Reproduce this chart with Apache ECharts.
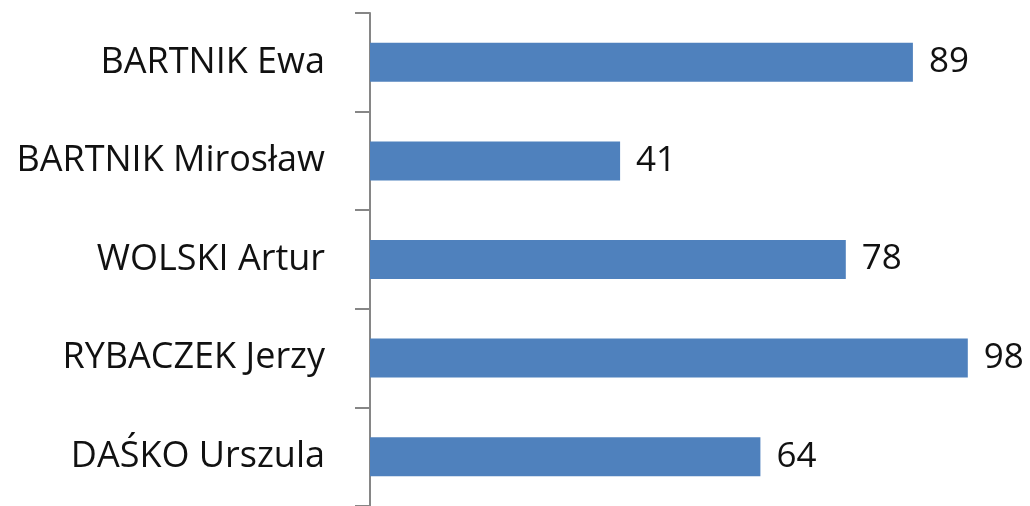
<!DOCTYPE html>
<html>
<head>
<meta charset="utf-8">
<script src="https://cdn.jsdelivr.net/npm/echarts@6/dist/echarts.min.js"></script>
<style>
  html, body { margin: 0; padding: 0; background: #fff; }
  #chart { width: 1030px; height: 506px; }
</style>
</head>
<body>
<div id="chart"></div>
<script>
const names = ['BARTNIK Ewa', 'BARTNIK Mirosław', 'WOLSKI Artur', 'RYBACZEK Jerzy', 'DAŚKO Urszula'];
const scores = [89, 41, 78, 98, 64];

const chart = echarts.init(document.getElementById('chart'));

chart.setOption({
  animation: false,
  grid: {
    left: 370,
    right: 50,
    top: 13,
    bottom: -3,
    containLabel: false
  },
  xAxis: {
    type: 'value',
    min: 0,
    max: 100,
    show: false
  },
  yAxis: {
    type: 'category',
    inverse: true,
    data: names,
    axisLine: { show: true, lineStyle: { color: '#868686', width: 2 } },
    axisTick: { show: true, length: 15, lineStyle: { color: '#868686', width: 2 } },
    axisLabel: {
      margin: 45,
      color: '#111',
      fontFamily: 'Open Sans',
      fontSize: 36,
      padding: [4, 0, 0, 0]
    },
    splitLine: { show: false }
  },
  series: [
    {
      type: 'bar',
      data: scores,
      barWidth: 39,
      itemStyle: { color: '#4F81BD' },
      label: {
        show: true,
        position: 'right',
        distance: 16,
        color: '#111',
        fontFamily: 'Open Sans',
        fontSize: 35,
        padding: [4, 0, 0, 0]
      }
    }
  ]
});
</script>
</body>
</html>
